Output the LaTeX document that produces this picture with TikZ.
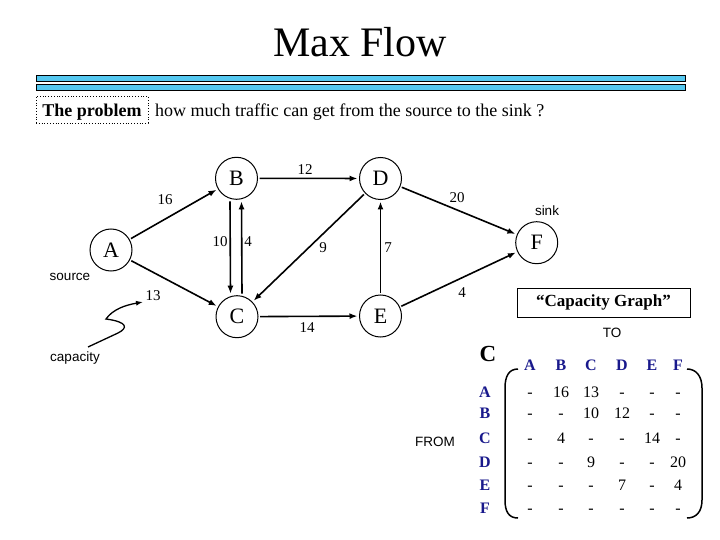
\documentclass[tikz,border=0pt]{standalone}
\usepackage{fontspec}
\setmainfont{Liberation Serif}
\setsansfont{Liberation Sans}
\usetikzlibrary{arrows.meta}
\definecolor{barblue}{RGB}{85,200,240}
\definecolor{matblue}{RGB}{25,25,140}
\tikzset{
 vertex/.style={circle,draw,line width=1pt,minimum size=42pt,inner sep=0pt,outer sep=2pt,font=\fontsize{22}{22}\selectfont},
 flow/.style={line width=1.6pt,-{Latex[length=8pt,width=6pt]}},
 caplbl/.style={font=\fontsize{15}{15}\selectfont,inner sep=0pt},
 lbl/.style={font=\sffamily\fontsize{13.5}{13.5}\selectfont,inner sep=0pt},
 hdr/.style={font=\bfseries\fontsize{16}{16}\selectfont,text=matblue,inner sep=0pt,text height=11pt,text depth=0pt},
 val/.style={font=\fontsize{16}{16}\selectfont,inner sep=0pt,text height=11pt,text depth=0pt},
 bar/.style={draw=black,fill=barblue,line width=0.8pt},
 paren/.style={line width=1.5pt},
}
\begin{document}
\begin{tikzpicture}[x=1pt,y=-1pt]
\path[fill=white] (0,0) rectangle (720,540);
% title
\node[font=\fontsize{42}{42}\selectfont,anchor=base,inner sep=0pt] (title) at (360,57) {Max Flow};
\path[bar] (36,75) rectangle (685,81);
\path[bar] (36,84) rectangle (685,90);
% problem line
\node[draw,dotted,line width=0.8pt,minimum width=112pt,minimum height=27pt,inner sep=0pt] (probbox) at (92,109.5) {};
\node[font=\bfseries\fontsize{18}{18}\selectfont,anchor=base,inner sep=0pt] (prob) at (92,116.5) {The problem};
\node[font=\fontsize{18}{18}\selectfont,anchor=base west,inner sep=0pt] (quest) at (155,116.5) {how much traffic can get from the source to the sink ?};
% vertices
\node[vertex] (A) at (111,250) {A};
\node[vertex] (B) at (236.5,178.3) {B};
\node[vertex] (D) at (380.5,178.5) {D};
\node[vertex] (F) at (536.7,242.7) {F};
\node[vertex] (C) at (237,316.7) {C};
\node[vertex] (E) at (380.5,316) {E};
% edges
\draw[flow] (A) -- (B);
\draw[flow] (A) -- (C);
\draw[flow] (B) -- (D);
\draw[flow] ([xshift=-6.5pt]B.south) -- ([xshift=-6.5pt]C.north);
\draw[flow] ([xshift=5pt]C.north) -- ([xshift=5pt]B.south);
\draw[flow] (D) -- (C);
\draw[flow] (C) -- (E);
\draw[flow] (E) -- (D);
\draw[flow] (D) -- (F);
\draw[flow] (E) -- (F);
% capacities
\node[caplbl] (l12) at (305,170) {12};
\node[caplbl] (l16) at (165,200) {16};
\node[caplbl] (l20) at (457,198) {20};
\node[caplbl] (l10) at (220,242) {10};
\node[caplbl] (l4a) at (248,242) {4};
\node[caplbl] (l9) at (323,248) {9};
\node[caplbl] (l7) at (388,248) {7};
\node[caplbl] (l13) at (153,296) {13};
\node[caplbl] (l4b) at (462,293) {4};
\node[caplbl] (l14) at (307,328) {14};
% annotations
\node[lbl] (source) at (70,277) {source};
\node[lbl] (sink) at (547,211) {sink};
\node[lbl] (capacity) at (75,358) {capacity};
\coordinate (sq0) at (88,347);
\coordinate (sq1) at (143,302);
\draw[line width=1.3pt,-{Latex[length=7pt,width=5pt]}] (sq0) -- (118,333) .. controls (128,328) and (128,322) .. (106,319) .. controls (113,309) and (126,305) .. (sq1);
% capacity graph
\node[draw,line width=0.8pt,minimum width=173pt,minimum height=29pt,inner sep=0pt,font=\bfseries\fontsize{17}{17}\selectfont] (cg) at (603.5,302.5) {“Capacity Graph”};
\node[lbl] (to) at (612,333) {TO};
\node[lbl] (from) at (435,442) {FROM};
\node[font=\bfseries\fontsize{23}{23}\selectfont,inner sep=0pt] (bigC) at (488,354) {C};
% matrix headers
\foreach \n/\x in {A/530,B/561,C/591,D/622,E/652,F/678}{
  \node[hdr] (col\n) at (\x,365) {\n};
}
\foreach \n/\y in {A/392,B/413.3,C/438.3,D/461.7,E/485,F/508.3}{
  \node[hdr] (row\n) at (485,\y) {\n};
}
% matrix values
\foreach \r/\y/\vals in {A/392/{-,16,13,-,-,-},B/413.3/{-,-,10,12,-,-},C/438.3/{-,4,-,-,14,-},D/461.7/{-,-,9,-,-,20},E/485/{-,-,-,7,-,4},F/508.3/{-,-,-,-,-,-}}{
  \foreach \v [count=\i] in \vals {
    \pgfmathsetmacro{\xx}{{530,561,591,622,652,678}[\i-1]}
    \node[val] (m\r\i) at (\xx,\y) {\v};
  }
}
% parentheses
\draw[paren] (518,369) .. controls (509,369) and (505,376) .. (505,388) -- (505,500) .. controls (505,512) and (509,518) .. (518,518);
\draw[paren] (687,369) .. controls (696,369) and (702,376) .. (702,388) -- (702,500) .. controls (702,512) and (696,518) .. (687,518);
\end{tikzpicture}
\end{document}
